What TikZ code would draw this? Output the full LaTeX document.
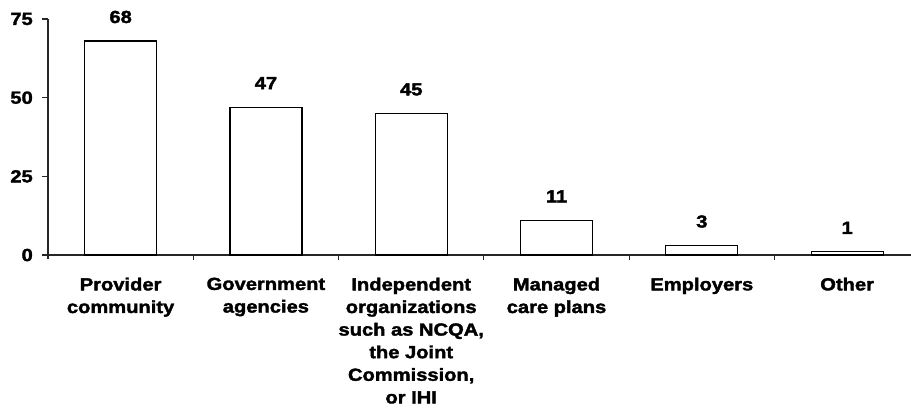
\documentclass[tikz,border=0pt]{standalone}
\usepackage{fontspec}
\setmainfont{Liberation Sans}
\newfontfamily\lab{Liberation Sans}[FakeStretch=1.15,FakeBold=2,BoldFont={Liberation Sans Bold}]
\begin{document}
\begin{tikzpicture}[x=1pt,y=-1pt,
  bar/.style={draw=black,fill=white,line width=1.1pt},
  axis/.style={draw=black!85,line width=1.1pt},
  val/.style={anchor=base,inner sep=0pt,font={\lab\bfseries\fontsize{17.5}{20}\selectfont}},
  tick/.style={anchor=east,inner sep=0pt,font={\lab\bfseries\fontsize{17.5}{20}\selectfont}},
  cat/.style={anchor=north,inner sep=0pt,align=center,font={\lab\bfseries\fontsize{17.5}{22.6}\selectfont}}]
\useasboundingbox (0,0) rectangle (911,408);
% axes
\coordinate (o) at (48,255);
\coordinate (top) at (48,19);
\coordinate (xend) at (911,255);
\draw[axis] (top) -- (48,259);
\draw[axis] (o) -- (xend);
\foreach \v/\y in {0/255,25/176.3,50/97.7,75/19}{
  \draw[axis] (42,\y) -- (48,\y);
  \node[tick] (t\v) at (33,\y) {\v};
}
\foreach \k in {1,...,5}{
  \draw[axis] (48+145.3*\k,255) -- (48+145.3*\k,260);
}
% bars
\foreach \k/\v in {0/68,1/47,2/45,3/11,4/3,5/1}{
  \pgfmathsetmacro{\cx}{48+145.3*(\k+0.5)}
  \pgfmathsetmacro{\ty}{255-3.147*\v}
  \draw[bar] (\cx-36,255) rectangle (\cx+36,\ty);
  \node[val] (v\k) at (\cx,\ty-18) {\v};
}
% category labels
\node[cat] (c0) at (120.6,277.5) {Provider\\community};
\node[cat] (c1) at (265.9,277.5) {Government\\agencies};
\node[cat] (c2) at (411.2,277.5) {Independent\\organizations\\such as NCQA,\\the Joint\\Commission,\\or IHI};
\node[cat] (c3) at (556.5,277.5) {Managed\\care plans};
\node[cat] (c4) at (701.8,277.5) {Employers};
\node[cat] (c5) at (847.1,277.5) {Other};
\end{tikzpicture}
\end{document}
